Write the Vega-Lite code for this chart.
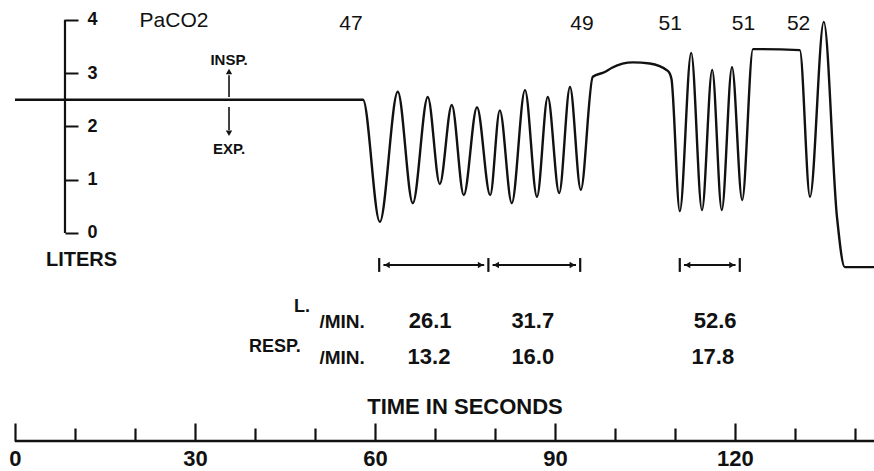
{
  "$schema": "https://vega.github.io/schema/vega-lite/v6.json",
  "width": 874,
  "height": 471,
  "autosize": {"type": "none"},
  "padding": 0,
  "background": "white",
  "config": {"view": {"stroke": null}, "axis": {"grid": false}},
  "datasets": {
    "trace": [
      {"t": 0, "v": 2.5}, {"t": 58, "v": 2.5}, {"t": 60.8, "v": 0.21}, {"t": 63.8, "v": 2.65},
      {"t": 66.3, "v": 0.56}, {"t": 68.8, "v": 2.55}, {"t": 70.8, "v": 0.92}, {"t": 72.8, "v": 2.4},
      {"t": 74.8, "v": 0.71}, {"t": 77.0, "v": 2.36}, {"t": 79.2, "v": 0.71}, {"t": 80.8, "v": 2.3},
      {"t": 82.8, "v": 0.56}, {"t": 85.0, "v": 2.68}, {"t": 87.0, "v": 0.68}, {"t": 88.8, "v": 2.55},
      {"t": 90.7, "v": 0.75}, {"t": 92.5, "v": 2.74}, {"t": 94.3, "v": 0.81}, {"t": 96.3, "v": 2.93},
      {"t": 98.3, "v": 3.02}, {"t": 99.5, "v": 3.1}, {"t": 103, "v": 3.2}, {"t": 105.8, "v": 3.18},
      {"t": 108.8, "v": 3.04}, {"t": 109.4, "v": 2.9}, {"t": 110.8, "v": 0.41}, {"t": 112.7, "v": 3.38},
      {"t": 114.5, "v": 0.43}, {"t": 116.2, "v": 3.06}, {"t": 117.8, "v": 0.43}, {"t": 119.5, "v": 3.11},
      {"t": 121.2, "v": 0.62}, {"t": 123.0, "v": 3.45}, {"t": 130.8, "v": 3.43}, {"t": 132.5, "v": 0.68},
      {"t": 134.8, "v": 3.96}, {"t": 137.0, "v": 0.3}, {"t": 138.3, "v": -0.64}, {"t": 143.2, "v": -0.64}
    ],
    "baseAxis": [{"t": 0, "t2": 143.2, "v": -3.902}],
    "leftAxis": [{"t": 8.33, "v": 0, "v2": 4}],
    "arrowShafts": [
      {"t": 35.67, "v": 2.55, "v2": 2.96},
      {"t": 35.67, "v": 2.364, "v2": 1.93}
    ],
    "arrowHeads": [
      {"t": 35.67, "v": 3.03, "dir": "up"},
      {"t": 35.67, "v": 1.87, "dir": "down"},
      {"t": 62.0, "v": -0.6, "dir": "left"},
      {"t": 77.6, "v": -0.6, "dir": "right"},
      {"t": 80.2, "v": -0.6, "dir": "left"},
      {"t": 92.9, "v": -0.6, "dir": "right"},
      {"t": 112.1, "v": -0.6, "dir": "left"},
      {"t": 119.5, "v": -0.6, "dir": "right"}
    ],
    "bars": [
      {"t": 60.7, "v": -0.47, "v2": -0.73},
      {"t": 78.9, "v": -0.47, "v2": -0.73},
      {"t": 94.2, "v": -0.47, "v2": -0.73},
      {"t": 110.8, "v": -0.47, "v2": -0.73},
      {"t": 120.8, "v": -0.47, "v2": -0.73}
    ],
    "spans": [
      {"t": 61.4, "t2": 78.2, "v": -0.6},
      {"t": 79.6, "t2": 93.5, "v": -0.6},
      {"t": 111.5, "t2": 120.1, "v": -0.6}
    ],
    "labels": [
      {"t": 26.5, "v": 3.98, "label": "PaCO2", "grp": "pac"},
      {"t": 56.0, "v": 3.92, "label": "47", "grp": "pac"},
      {"t": 94.5, "v": 3.92, "label": "49", "grp": "pac"},
      {"t": 109.2, "v": 3.92, "label": "51", "grp": "pac"},
      {"t": 121.4, "v": 3.92, "label": "51", "grp": "pac"},
      {"t": 130.6, "v": 3.92, "label": "52", "grp": "pac"},
      {"t": 35.67, "v": 3.25, "label": "INSP.", "grp": "small"},
      {"t": 35.67, "v": 1.58, "label": "EXP.", "grp": "small"},
      {"t": 11.1, "v": -0.507, "label": "LITERS", "grp": "mid"},
      {"t": 75.0, "v": -3.264, "label": "TIME IN SECONDS", "grp": "title"},
      {"t": 69.2, "v": -1.65, "label": "26.1", "grp": "val"},
      {"t": 86.3, "v": -1.65, "label": "31.7", "grp": "val"},
      {"t": 116.7, "v": -1.65, "label": "52.6", "grp": "val"},
      {"t": 69.0, "v": -2.32, "label": "13.2", "grp": "val"},
      {"t": 86.3, "v": -2.32, "label": "16.0", "grp": "val"},
      {"t": 116.3, "v": -2.32, "label": "17.8", "grp": "val"},
      {"t": 46.5, "v": -1.39, "label": "L.", "grp": "unitL"},
      {"t": 39.0, "v": -2.13, "label": "RESP.", "grp": "unitL"},
      {"t": 58.3, "v": -1.67, "label": "/MIN.", "grp": "unitR"},
      {"t": 58.3, "v": -2.34, "label": "/MIN.", "grp": "unitR"}
    ]
  },
  "encoding": {
    "x": {"field": "t", "type": "quantitative", "scale": {"domain": [-2.5, 143.17], "nice": false, "zero": false}, "axis": null},
    "y": {"field": "v", "type": "quantitative", "scale": {"domain": [-4.465, 4.371], "nice": false, "zero": false}, "axis": null}
  },
  "layer": [
    {
      "data": {"name": "trace"},
      "mark": {"type": "line", "interpolate": "monotone", "color": "#111", "strokeWidth": 2.4},
      "encoding": {
        "x": {"field": "t", "type": "quantitative", "scale": {"domain": [-2.5, 143.17], "nice": false, "zero": false},
          "axis": {"orient": "bottom", "offset": -30, "values": [0, 30, 60, 90, 120], "tickSize": -18, "tickWidth": 2.2, "tickColor": "#111",
            "domain": false, "grid": false, "title": null, "labelFont": "Liberation Sans", "labelFontWeight": "bold", "labelFontSize": 22,
            "labelColor": "#111", "labelPadding": 25, "labelFlush": false, "labelOverlap": false}},
        "y": {"field": "v", "type": "quantitative", "scale": {"domain": [-4.465, 4.371], "nice": false, "zero": false},
          "axis": {"orient": "right", "offset": -809, "values": [0, 1, 2, 3, 4], "tickSize": 13, "tickWidth": 2, "tickColor": "#111",
            "domain": false, "grid": false, "title": null, "labelFont": "Liberation Sans", "labelFontWeight": "bold", "labelFontSize": 18,
            "labelColor": "#111", "labelPadding": 9, "labelFlush": false, "labelOverlap": false}}
      }
    },
    {
      "data": {"name": "baseAxis"},
      "mark": {"type": "rule", "color": "#111", "strokeWidth": 2.4},
      "encoding": {
        "x": {"field": "t", "type": "quantitative", "scale": {"domain": [-2.5, 143.17], "nice": false, "zero": false},
          "axis": {"orient": "bottom", "offset": -30, "values": [10, 20, 40, 50, 70, 80, 100, 110, 130, 140], "tickSize": -13, "tickWidth": 2.2,
            "tickColor": "#111", "domain": false, "grid": false, "title": null, "labels": false}},
        "x2": {"field": "t2"}
      }
    },
    {
      "data": {"name": "leftAxis"},
      "mark": {"type": "rule", "color": "#111", "strokeWidth": 2.2},
      "encoding": {"y2": {"field": "v2"}}
    },
    {
      "data": {"name": "arrowShafts"},
      "mark": {"type": "rule", "color": "#111", "strokeWidth": 1.6},
      "encoding": {"y2": {"field": "v2"}}
    },
    {
      "data": {"name": "bars"},
      "mark": {"type": "rule", "color": "#111", "strokeWidth": 2.2},
      "encoding": {"y2": {"field": "v2"}}
    },
    {
      "data": {"name": "spans"},
      "mark": {"type": "rule", "color": "#111", "strokeWidth": 2},
      "encoding": {"x2": {"field": "t2"}}
    },
    {
      "data": {"name": "arrowHeads"},
      "mark": {"type": "point", "filled": true, "color": "#111", "opacity": 1, "size": 40},
      "encoding": {
        "shape": {"field": "dir", "type": "nominal", "legend": null,
          "scale": {"domain": ["up", "down", "left", "right"], "range": ["triangle-up", "triangle-down", "triangle-left", "triangle-right"]}}
      }
    },
    {
      "data": {"name": "labels"},
      "transform": [{"filter": "datum.grp === 'pac'"}],
      "mark": {"type": "text", "font": "Liberation Sans", "fontSize": 21, "color": "#111", "align": "center", "baseline": "middle"},
      "encoding": {"text": {"field": "label"}}
    },
    {
      "data": {"name": "labels"},
      "transform": [{"filter": "datum.grp === 'small'"}],
      "mark": {"type": "text", "font": "Liberation Sans", "fontWeight": "bold", "fontSize": 15, "color": "#111", "align": "center", "baseline": "middle"},
      "encoding": {"text": {"field": "label"}}
    },
    {
      "data": {"name": "labels"},
      "transform": [{"filter": "datum.grp === 'mid'"}],
      "mark": {"type": "text", "font": "Liberation Sans", "fontWeight": "bold", "fontSize": 20, "color": "#111", "align": "center", "baseline": "middle"},
      "encoding": {"text": {"field": "label"}}
    },
    {
      "data": {"name": "labels"},
      "transform": [{"filter": "datum.grp === 'title'"}],
      "mark": {"type": "text", "font": "Liberation Sans", "fontWeight": "bold", "fontSize": 22, "color": "#111", "align": "center", "baseline": "middle"},
      "encoding": {"text": {"field": "label"}}
    },
    {
      "data": {"name": "labels"},
      "transform": [{"filter": "datum.grp === 'val'"}],
      "mark": {"type": "text", "font": "Liberation Sans", "fontWeight": "bold", "fontSize": 22, "color": "#111", "align": "center", "baseline": "middle"},
      "encoding": {"text": {"field": "label"}}
    },
    {
      "data": {"name": "labels"},
      "transform": [{"filter": "datum.grp === 'unitL'"}],
      "mark": {"type": "text", "font": "Liberation Sans", "fontWeight": "bold", "fontSize": 18, "color": "#111", "align": "left", "baseline": "middle"},
      "encoding": {"text": {"field": "label"}}
    },
    {
      "data": {"name": "labels"},
      "transform": [{"filter": "datum.grp === 'unitR'"}],
      "mark": {"type": "text", "font": "Liberation Sans", "fontWeight": "bold", "fontSize": 19, "color": "#111", "align": "right", "baseline": "middle"},
      "encoding": {"text": {"field": "label"}}
    }
  ],
  "resolve": {"axis": {"x": "independent", "y": "independent"}}
}
